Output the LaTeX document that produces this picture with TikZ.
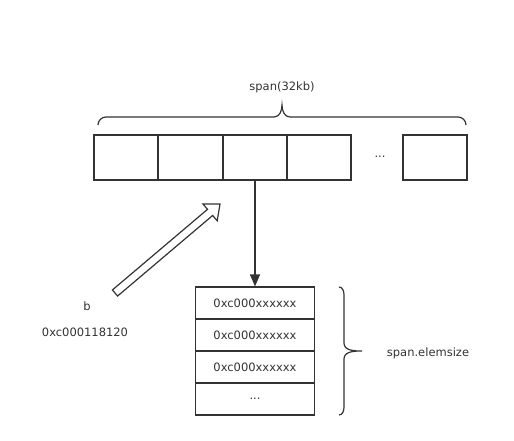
\documentclass[tikz,border=0pt]{standalone}
\usepackage{fontspec}
\setmainfont{DejaVu Sans}
\usetikzlibrary{arrows.meta,calc}
\tikzset{
  cell/.style={draw=black!80, line width=1.2pt, minimum width=64pt, minimum height=45pt, inner sep=0pt},
  elem/.style={draw=black!80, line width=1.2pt, minimum width=119pt, minimum height=32pt, inner sep=0pt,
    font=\fontsize{11.5}{13}\selectfont, text=black!80},
  txt/.style={font=\fontsize{11.5}{13}\selectfont, text=black!80, inner sep=0pt}
}

\begin{document}
\begin{tikzpicture}[x=1pt, y=-1pt]
			%%%%% START %%%%%
			\useasboundingbox (0,0) rectangle (514,440);
			
			\node[cell] (slot1) at (126, 157.5) {};
			\node[cell] (slot2) at (190.5, 157.5) {};
			\node[cell] (slot3) at (255, 157.5) {};
			\node[cell] (slot4) at (319, 157.5) {};
			\node[txt] (slotdots) at (380, 157) {...};
			\node[cell] (slotn) at (435, 157.5) {};
			
			\draw[line width=1.2pt, color=black!80] (98, 125) to[out=90, in=180] (106, 117) -- (274, 117)
			  to[out=0, in=-90] (282, 105) to[out=-90, in=180] (290, 117) -- (458, 117) to[out=0, in=90] (466, 125);
			\node[txt] (spanlabel) at (282, 87) {span(32kb)};
			
			\node[elem] (elem1) at (255, 303) {0xc000xxxxxx};
			\node[elem] (elem2) at (255, 335) {0xc000xxxxxx};
			\node[elem] (elem3) at (255, 367) {0xc000xxxxxx};
			\node[elem] (elem4) at (255, 399) {...};
			
			\draw[line width=1.2pt, color=black!80, -{Triangle[length=12pt, width=10pt]}] (slot3.south) -- (elem1.north);
			
			\draw[line width=1.2pt, color=black!80] (339, 287) to[out=0, in=90] (344, 295) -- (344, 343)
			  to[out=-90, in=180] (362, 351) to[out=180, in=90] (344, 359) -- (344, 407) to[out=-90, in=0] (339, 415);
			\node[txt] (sizelabel) at (428, 353) {span.elemsize};
			
			\node[txt] (bname) at (87, 306) {b};
			\node[txt] (baddr) at (85, 332) {0xc000118120};
			
			\coordinate (btail) at (115, 293);
			\coordinate (btip) at (220, 204);
			\coordinate (bneck) at ($(btip)!13pt!(btail)$);
			\draw[line width=1.2pt, color=black!80, fill=white, line join=miter]
			  ($(btail)!4pt!90:(btip)$) -- ($(bneck)!4pt!90:(btip)$) -- ($(bneck)!11pt!90:(btip)$) -- (btip)
			  -- ($(bneck)!11pt!-90:(btip)$) -- ($(bneck)!4pt!-90:(btip)$) -- ($(btail)!4pt!-90:(btip)$) -- cycle;
			
			%%%%% END %%%%%
\end{tikzpicture}
\end{document}
